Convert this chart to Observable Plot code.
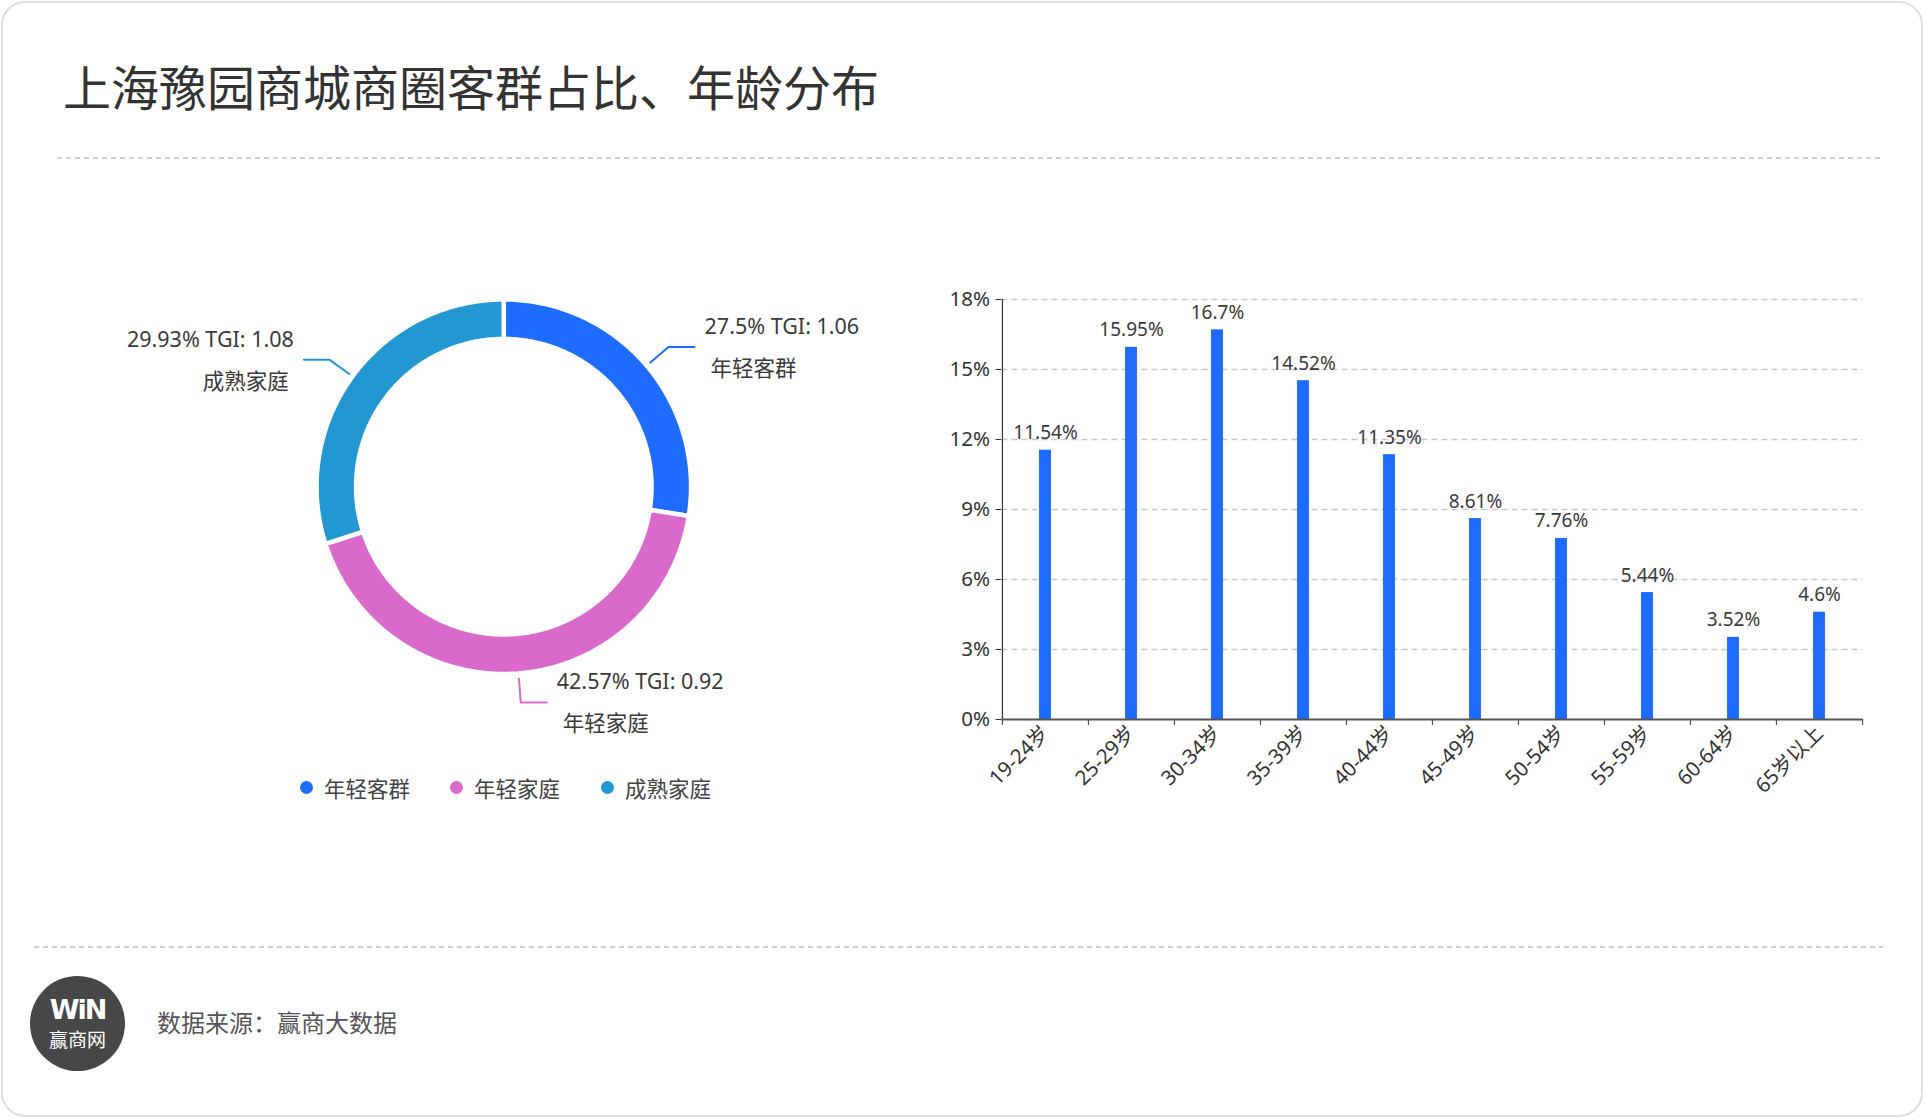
<!DOCTYPE html>
<html>
<head>
<meta charset="utf-8">
<script src="https://cdn.jsdelivr.net/npm/d3@7"></script>
<script src="https://cdn.jsdelivr.net/npm/@observablehq/plot@0.6"></script>
<style>
  html, body { margin: 0; padding: 0; background: #fff; }
  body { width: 1926px; height: 1118px; position: relative; overflow: hidden;
         font-family: "Noto Sans", "Noto Sans CJK SC", sans-serif; color: #333; }
  #card { position: absolute; left: 1px; top: 1px; width: 1922px; height: 1116px;
          border: 2px solid #dedede; border-radius: 24px; box-sizing: border-box; }
  .abs { position: absolute; }
  #title { left: 63px; top: 61px; font-size: 48px; line-height: 48px; color: #333;
           font-family: "Noto Sans CJK SC", sans-serif; white-space: nowrap; }
  .sep { height: 1.5px; background: repeating-linear-gradient(to right, #cfcfcf 0 5px, transparent 5px 9px); }
  #sepTop { left: 57px; top: 157px; width: 1826px; }
  #sepBot { left: 34px; top: 946px; width: 1849px; }
  #logo { left: 30px; top: 976px; width: 95px; height: 95px; border-radius: 50%; background: #474747; color: #fff; text-align: center; }
  #logo .win { position: absolute; left: 0; width: 95px; top: 20px; font: 900 27px/27px "DejaVu Sans", "Liberation Sans", Arial, sans-serif; letter-spacing: -2px; }
  #logo .cn { position: absolute; left: 0; width: 95px; top: 52px; font: 19px/22px "Noto Sans CJK SC", sans-serif; }
  #source { left: 157px; top: 1007px; font-size: 24px; line-height: 30px; color: #555; font-family: "Noto Sans CJK SC", sans-serif; }
  .legend-item { position: absolute; height: 24px; display: flex; align-items: center; font-size: 21.5px; color: #444; font-family: "Noto Sans CJK SC", sans-serif; white-space: nowrap; }
  .legend-dot { width: 13px; height: 13px; border-radius: 50%; margin-right: 11px; }
  #donut { left: 0; top: 200px; }
  #bars { left: 900px; top: 250px; }
  svg { overflow: visible; }
</style>
</head>
<body>
<div id="card"></div>
<div id="title" class="abs">上海豫园商城商圈客群占比、年龄分布</div>
<div id="sepTop" class="abs sep"></div>
<div id="sepBot" class="abs sep"></div>
<div id="donut" class="abs"></div>
<div id="bars" class="abs"></div>
<div id="legend"></div>
<div id="logo" class="abs"><div class="win">WiN</div><div class="cn">赢商网</div></div>
<div id="source" class="abs">数据来源：赢商大数据</div>

<script>
// ---------- data ----------
const segNames  = ["年轻客群", "年轻家庭", "成熟家庭"];
const segShare  = [27.5, 42.57, 29.93];
const segTGI    = ["1.06", "0.92", "1.08"];
const segColors = ["#1E6BFF", "#DA69CC", "#2397D1"];

const ageGroups = ["19-24岁", "25-29岁", "30-34岁", "35-39岁", "40-44岁", "45-49岁", "50-54岁", "55-59岁", "60-64岁", "65岁以上"];
const ageShare  = [11.54, 15.95, 16.7, 14.52, 11.35, 8.61, 7.76, 5.44, 3.52, 4.6];
const yTicks    = [0, 3, 6, 9, 12, 15, 18];

const FONT = '"Noto Sans", "Noto Sans CJK SC", sans-serif';

// ---------- donut ----------
const R_OUT = 187.25, R_IN = 147.75, GAP = 4.5;
const total = d3.sum(segShare);
let acc = 0;
const slices = segNames.map((name, i) => {
  const a0 = acc / total * 2 * Math.PI;
  acc += segShare[i];
  const a1 = acc / total * 2 * Math.PI;
  return {name, share: segShare[i], tgi: segTGI[i], a0, a1, mid: (a0 + a1) / 2};
});
const ringPts = [];
for (const s of slices) {
  const n = 120;
  for (let k = 0; k <= n; k++) {
    const t = s.a0 + (s.a1 - s.a0) * k / n;
    ringPts.push({name: s.name,
      xo: R_OUT * Math.sin(t), yo: R_OUT * Math.cos(t),
      xi: R_IN * Math.sin(t), yi: R_IN * Math.cos(t)});
  }
}
const leaderPts = [];
const labels = [];
for (const s of slices) {
  const side = Math.sin(s.mid) >= 0 ? 1 : -1;
  const p1 = {x: 192 * Math.sin(s.mid), y: 192 * Math.cos(s.mid)};
  const p2 = {x: 216 * Math.sin(s.mid), y: 216 * Math.cos(s.mid)};
  const p3 = {x: p2.x + side * 26, y: p2.y};
  [p1, p2, p3].forEach(p => leaderPts.push({name: s.name, ...p}));
  labels.push({...s, side, x: p3.x, y: p3.y});
}
const CX = 503.8, CY = 486.7, DW = 900, DH = 700, DTOP = 200;
const donut = Plot.plot({
  width: DW, height: DH, margin: 0,
  style: {fontFamily: FONT, fontSize: "20px", color: "#333", background: "transparent", overflow: "visible"},
  x: {domain: [-CX, DW - CX], range: [0, DW], axis: null},
  y: {domain: [CY - (DTOP + DH), CY - DTOP], range: [DH, 0], axis: null},
  color: {domain: segNames, range: segColors},
  marks: [
    Plot.area(ringPts, {x1: "xo", y1: "yo", x2: "xi", y2: "yi", z: "name", fill: "name", stroke: "white", strokeWidth: GAP}),
    Plot.line(leaderPts, {x: "x", y: "y", z: "name", stroke: "name", strokeWidth: 2}),
    Plot.text(labels.filter(d => d.side > 0), {x: "x", y: "y", text: d => `${d.share}% TGI: ${d.tgi}`, textAnchor: "start", dx: 10, dy: -20, fill: "#3a3a3a", fontSize: 21.5}),
    Plot.text(labels.filter(d => d.side > 0), {x: "x", y: "y", text: "name", textAnchor: "start", dx: 16, dy: 22, fill: "#3a3a3a", fontSize: 21.5}),
    Plot.text(labels.filter(d => d.side < 0), {x: "x", y: "y", text: d => `${d.share}% TGI: ${d.tgi}`, textAnchor: "end", dx: -10, dy: -20, fill: "#3a3a3a", fontSize: 21.5}),
    Plot.text(labels.filter(d => d.side < 0), {x: "x", y: "y", text: "name", textAnchor: "end", dx: -15, dy: 22, fill: "#3a3a3a", fontSize: 21.5})
  ]
});
document.getElementById("donut").appendChild(donut);

// legend
const legendX = [300, 450, 601];
const legend = document.getElementById("legend");
segNames.forEach((n, i) => {
  const item = document.createElement("div");
  item.className = "legend-item";
  item.style.left = legendX[i] + "px";
  item.style.top = "775px";
  item.innerHTML = `<span class="legend-dot" style="background:${segColors[i]}"></span><span>${n}</span>`;
  legend.appendChild(item);
});

// ---------- bars ----------
const ageData = ageGroups.map((a, i) => ({age: a, v: ageShare[i]}));
const STEP = 861 / ageGroups.length;
const bars = Plot.plot({
  width: 1003, height: 580,
  marginLeft: 101.5, marginRight: 40.5, marginTop: 49, marginBottom: 111,
  style: {fontFamily: FONT, fontSize: "20.5px", color: "#333", background: "transparent", overflow: "visible"},
  x: {domain: ageGroups, padding: 0, tickSize: 0, tickPadding: 10, tickRotate: -45, label: null},
  y: {domain: [0, 18], ticks: yTicks, tickFormat: d => d + "%", tickSize: 6, tickPadding: 6, label: null},
  marks: [
    Plot.ruleY(yTicks.filter(t => t > 0), {stroke: "#c8c8c8", strokeWidth: 1.5, strokeDasharray: "6,4"}),
    Plot.barY(ageData, {x: "age", y: "v", fill: "#1E6BFF", insetLeft: (STEP - 12) / 2, insetRight: (STEP - 12) / 2}),
    Plot.ruleX([ageGroups[0]], {x: d => d, dx: -STEP / 2, y1: 0, y2: 18, stroke: "#333", strokeWidth: 1.2}),
    Plot.ruleX(ageGroups, {x: d => d, dx: -STEP / 2, y1: 0, y2: 0, insetBottom: -6, stroke: "#555", strokeWidth: 1.2}),
    Plot.ruleX([ageGroups[ageGroups.length - 1]], {x: d => d, dx: STEP / 2, y1: 0, y2: 0, insetBottom: -6, stroke: "#555", strokeWidth: 1.2}),
    Plot.ruleY([0], {stroke: "#555", strokeWidth: 2}),
    Plot.text(ageData, {x: "age", y: "v", text: d => d.v + "%", lineAnchor: "bottom", dy: -11, fill: "#3a3a3a", fontSize: 19})
  ]
});
document.getElementById("bars").appendChild(bars);
</script>
</body>
</html>
